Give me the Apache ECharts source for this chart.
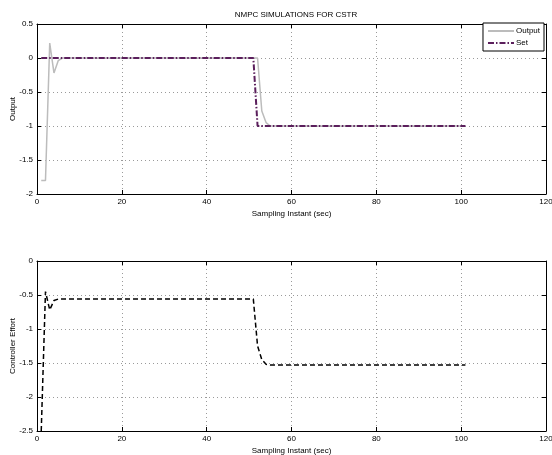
<!DOCTYPE html>
<html>
<head>
<meta charset="utf-8">
<script src="https://cdn.jsdelivr.net/npm/echarts@6/dist/echarts.min.js"></script>
<style>html,body{margin:0;padding:0;background:#fff}#c{width:552px;height:455px}</style>
</head>
<body>
<div id="c"></div>
<script>
// ---- data ----
var xTicks = [0, 20, 40, 60, 80, 100, 120];
var outT   = [1, 2, 3, 4, 5, 6, 52, 53, 54, 55, 101];
var outY   = [-1.8, -1.8, 0.22, -0.22, -0.04, 0, 0, -0.78, -0.95, -1, -1];
var setT   = [1, 51, 52, 101];
var setY   = [0, 0, -1, -1];
var ctrlT  = [1, 2, 3, 4, 5, 51, 52, 53, 54, 55, 101];
var ctrlY  = [-2.5, -0.45, -0.72, -0.58, -0.56, -0.56, -1.25, -1.45, -1.52, -1.53, -1.53];

function pairs(t, v) { return t.map(function (x, i) { return [x, v[i]]; }); }

var FONT = '"Liberation Sans Narrow", "Liberation Sans", Arial, sans-serif';
var gridLine = { show: true, lineStyle: { color: '#9a9a9a', type: [1, 3], width: 1 } };

function xAx(gi, pos, showLbl, name) {
  return {
    type: 'value', gridIndex: gi, position: pos, min: 0, max: 120, interval: 20,
    axisLine: { show: true, onZero: false, lineStyle: { color: '#000', width: 1 } },
    axisTick: { show: true, inside: true, length: 4, lineStyle: { color: '#000' } },
    axisLabel: { show: showLbl, color: '#000', fontSize: 8, fontFamily: FONT, margin: 4 },
    splitLine: pos === 'bottom' ? gridLine : { show: false },
    name: name || '', nameLocation: 'middle', nameGap: 16,
    nameTextStyle: { color: '#000', fontSize: 8, fontFamily: FONT }
  };
}
function yAx(gi, pos, min, max, showLbl, name) {
  return {
    type: 'value', gridIndex: gi, position: pos, min: min, max: max, interval: 0.5,
    axisLine: { show: true, onZero: false, lineStyle: { color: '#000', width: 1 } },
    axisTick: { show: true, inside: true, length: 4, lineStyle: { color: '#000' } },
    axisLabel: { show: showLbl, color: '#000', fontSize: 8, fontFamily: FONT, margin: 4,
                 formatter: function (v) { return String(Math.round(v * 10) / 10); } },
    splitLine: pos === 'left' ? gridLine : { show: false },
    name: name || '', nameLocation: 'middle', nameGap: 20, nameRotate: 90,
    nameMoveOverlap: false,
    nameTextStyle: { color: '#000', fontSize: 8, fontFamily: FONT }
  };
}

var chart = echarts.init(document.getElementById('c'));
chart.setOption({
  backgroundColor: '#fff',
  animation: false,
  title: {
    text: 'NMPC SIMULATIONS FOR CSTR', left: 291, top: 6, textAlign: 'center',
    textStyle: { fontSize: 8, fontWeight: 'normal', color: '#000', fontFamily: FONT }
  },
  legend: {
    data: ['Output', 'Set'], orient: 'vertical', right: 8, top: 23,
    itemWidth: 26, itemHeight: 8, itemGap: 4, padding: [4, 4, 4, 4],
    backgroundColor: '#fff', borderColor: '#000', borderWidth: 1, borderRadius: 0,
    align: 'left', itemStyle: { opacity: 0 },
    textStyle: { fontSize: 8, color: '#000', fontFamily: FONT, padding: [0, 0, 0, -3] }
  },
  grid: [
    { left: 37, right: 6, top: 24, height: 170, outerBoundsMode: 'none', containLabel: false },
    { left: 37, right: 6, top: 261, height: 170, outerBoundsMode: 'none', containLabel: false }
  ],
  xAxis: [
    xAx(0, 'bottom', true, 'Sampling Instant (sec)'),
    xAx(0, 'top', false),
    xAx(1, 'bottom', true, 'Sampling Instant (sec)'),
    xAx(1, 'top', false)
  ],
  yAxis: [
    yAx(0, 'left', -2, 0.5, true, 'Output'),
    yAx(0, 'right', -2, 0.5, false),
    yAx(1, 'left', -2.5, 0, true, 'Controller Effort'),
    yAx(1, 'right', -2.5, 0, false)
  ],
  series: [
    {
      name: 'Output', type: 'line', xAxisIndex: 0, yAxisIndex: 0, data: pairs(outT, outY),
      showSymbol: false, symbol: 'none', color: '#bcbcbc',
      lineStyle: { color: '#bcbcbc', width: 1.5 }, z: 2
    },
    {
      name: 'Set', type: 'line', xAxisIndex: 0, yAxisIndex: 0, data: pairs(setT, setY),
      showSymbol: false, symbol: 'none', color: '#5b1f5c',
      lineStyle: { color: '#5b1f5c', width: 2, type: [6, 2, 1.5, 2] }, z: 3
    },
    {
      name: 'Controller', type: 'line', xAxisIndex: 2, yAxisIndex: 2, data: pairs(ctrlT, ctrlY),
      showSymbol: false, symbol: 'none', color: '#000',
      lineStyle: { color: '#000', width: 1.5, type: [5, 3] }, z: 3
    }
  ]
});
</script>
</body>
</html>
